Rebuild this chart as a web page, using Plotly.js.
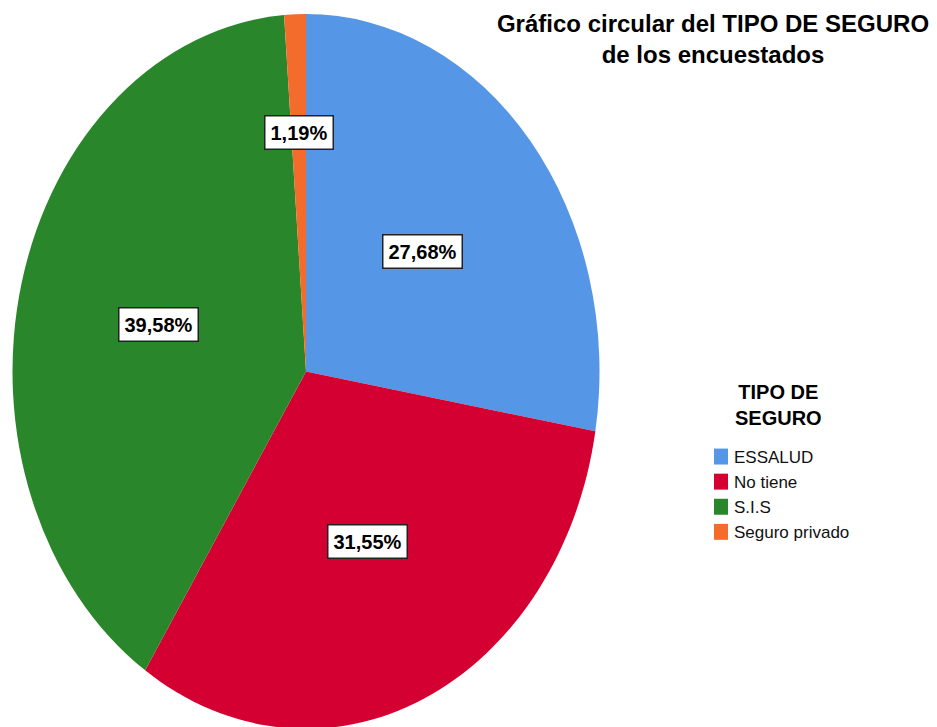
<!DOCTYPE html>
<html><head><meta charset="utf-8">
<script src="https://cdn.plot.ly/plotly-3.0.1.min.js"></script>
<style>html,body{margin:0;padding:0;background:#fff}#chart{width:937px;height:727px}</style>
</head><body><div id="chart"></div>
<script>
const categories = ['ESSALUD', 'No tiene', 'S.I.S', 'Seguro privado'];
const percentages = [27.68, 31.55, 39.58, 1.19];
const sliceColors = ['#5596E6', '#D50032', '#2A862A', '#F36C2B'];
const titleText = 'Gráfico circular del TIPO DE SEGURO<br>de los encuestados';
const legendTitle = 'TIPO DE<br>SEGURO';

const W = 937, H = 727;
const cxPx = 306, cyPx = 371.4, rxPx = 293.5, ryPx = 357.4;
const fam = "'Liberation Sans', Arial, sans-serif";

const trace = {
  type: 'pie', labels: categories, values: percentages,
  marker: {colors: sliceColors, line: {width: 0}},
  sort: false, direction: 'clockwise', rotation: 0,
  textinfo: 'none', hoverinfo: 'label+percent',
  domain: {x: [(cxPx - rxPx) / W, (cxPx + rxPx) / W], y: [(H - cyPx - rxPx) / H, (H - cyPx + rxPx) / H]}
};

const total = percentages.reduce((a, b) => a + b, 0);
let cum = 0;
const annotations = percentages.map((v, i) => {
  const mid = (cum + v / 2) / total * 2 * Math.PI; cum += v;
  const rf = v / total < 0.05 ? 0.67 : 0.52;
  const px = cxPx + rxPx * rf * Math.sin(mid);
  const py = cyPx - ryPx * rf * Math.cos(mid);
  return {
    xref: 'paper', yref: 'paper', x: px / W, y: 1 - py / H,
    text: v.toFixed(2).replace('.', ',') + '%', showarrow: false,
    bgcolor: '#ffffff', bordercolor: '#222222', borderwidth: 1.5, borderpad: 5,
    font: {family: fam, size: 20, color: '#000', weight: 'bold'},
    xanchor: 'center', yanchor: 'middle'
  };
});
// legend title, centred over the legend
annotations.push({
  xref: 'paper', yref: 'paper', x: 778 / W, y: 1 - 405 / H,
  text: legendTitle, showarrow: false, align: 'center',
  xanchor: 'center', yanchor: 'middle',
  font: {family: fam, size: 20, color: '#000', weight: 'bold'}
});

const layout = {
  width: W, height: H,
  margin: {l: 0, r: 0, t: 0, b: 0},
  paper_bgcolor: '#fff', plot_bgcolor: '#fff',
  title: {text: titleText, x: 713 / W, xanchor: 'center', xref: 'paper', yref: 'paper', y: 1 - 32 / H, yanchor: 'top',
          font: {family: fam, size: 24, weight: 'bold', color: '#000'}},
  showlegend: true,
  legend: {
    x: 694 / W, xanchor: 'left', y: 1 - 439 / H, yanchor: 'top',
    font: {family: fam, size: 17, color: '#111'},
    bgcolor: 'rgba(0,0,0,0)', itemwidth: 30
  },
  annotations: annotations
};

Plotly.newPlot('chart', [trace], layout, {staticPlot: true}).then(gd => {
  const cd = gd.calcdata && gd.calcdata[0] && gd.calcdata[0][0];
  const cy = (cd && cd.cy !== undefined) ? cd.cy : cyPx;
  const sy = ryPx / rxPx;
  const pl = gd.querySelector('.pielayer');
  if (pl) pl.setAttribute('transform', 'translate(0,' + cy + ') scale(1,' + sy + ') translate(0,' + (-cy) + ')');
  gd.querySelectorAll('.legend .legendpoints path').forEach(p => {
    const t = p.getAttribute('transform') || '';
    const m = t.match(/translate\(\s*([-\d.]+)[ ,]+([-\d.]+)\s*\)/);
    const tx = m ? parseFloat(m[1]) : 20, ty = m ? parseFloat(m[2]) : 0;
    p.setAttribute('transform', 'translate(' + (tx + 7) + ',' + ty + ') scale(1.17,1.33)');
  });
});
</script>
</body></html>
